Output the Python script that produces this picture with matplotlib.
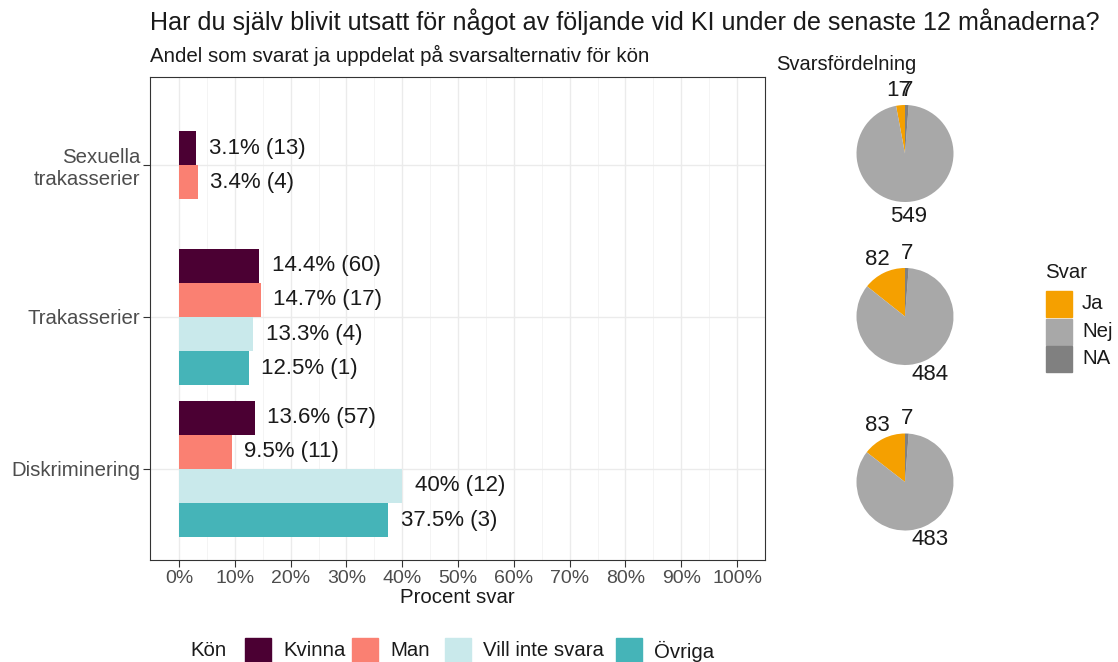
import matplotlib
matplotlib.use("Agg")
import matplotlib.pyplot as plt
from matplotlib.patches import Rectangle
import numpy as np

plt.rcParams['font.family'] = ['Liberation Sans', 'DejaVu Sans']

# ---- data ----
categories = ["Sexuella\ntrakasserier", "Trakasserier", "Diskriminering"]
genders = ["Kvinna", "Man", "Vill inte svara", "Övriga"]
gender_colors = ["#4B0033", "#FA8072", "#C9E9EB", "#45B4B8"]
# percent values per category (None = no bar)
pct = {
    "Sexuella\ntrakasserier": [3.1, 3.4, None, None],
    "Trakasserier": [14.4, 14.7, 13.3, 12.5],
    "Diskriminering": [13.6, 9.5, 40.0, 37.5],
}
counts = {
    "Sexuella\ntrakasserier": [13, 4, None, None],
    "Trakasserier": [60, 17, 4, 1],
    "Diskriminering": [57, 11, 12, 3],
}
x_ticks = list(range(0, 101, 10))
x_tick_labels = [f"{v}%" for v in x_ticks]

svar_labels = ["Ja", "Nej", "NA"]
svar_colors = ["#F5A000", "#A8A8A8", "#808080"]
pie_ja = [17, 82, 83]
pie_nej = [549, 484, 483]
pie_na = [7, 7, 7]

# ---- figure ----
W, H = 1118, 662
fig = plt.figure(figsize=(W / 100, H / 100), dpi=100)

def px_axes(x0, y0, x1, y1):
    return fig.add_axes([x0 / W, 1 - y1 / H, (x1 - x0) / W, (y1 - y0) / H])

TXT = "#1a1a1a"
ax = px_axes(150, 77, 765, 560)
bar_h = 0.9 / 4
for ci, cat in enumerate(categories):
    vals = pct[cat]
    present = [i for i, v in enumerate(vals) if v is not None]
    n = len(present)
    for k, gi in enumerate(present):
        y = ci + (k - (n - 1) / 2) * bar_h
        v = vals[gi]
        ax.barh(y, v, height=bar_h, color=gender_colors[gi], zorder=3)
        lbl = f"{v:g}%"
        ax.text(v + 2.2, y, f"{lbl} ({counts[cat][gi]})", va="center", ha="left",
                fontsize=16, color=TXT, zorder=4)

ax.set_xlim(-5.2, 105)
ax.set_ylim(2.6, -0.58)
ax.set_xticks(x_ticks)
ax.set_xticklabels(x_tick_labels)
ax.set_xticks(np.arange(5, 100, 10), minor=True)
ax.set_yticks(range(len(categories)))
ax.set_yticklabels(categories)
ax.grid(True, which="major", color="#EBEBEB", lw=1.0, zorder=0)
ax.grid(True, which="minor", axis="x", color="#F3F3F3", lw=0.6, zorder=0)
ax.tick_params(axis="y", which="major", labelsize=14.7, colors="#333333",
               labelcolor="#4D4D4D", length=5, width=0.8, pad=2)
ax.tick_params(axis="x", which="major", labelsize=14, colors="#333333",
               labelcolor="#4D4D4D", length=5, width=0.8, pad=2)
ax.tick_params(axis="both", which="minor", length=0)
for s in ax.spines.values():
    s.set_color("#333333")
    s.set_linewidth(0.8)
ax.set_xlabel("Procent svar", fontsize=14.7, color=TXT, labelpad=1)

# titles
fig.text(150 / W, 1 - 22 / H, "Har du själv blivit utsatt för något av följande vid KI under de senaste 12 månaderna?",
         fontsize=18.1, va="center", ha="left", color=TXT)
fig.text(150 / W, 1 - 55 / H, "Andel som svarat ja uppdelat på svarsalternativ för kön",
         fontsize=14.8, va="center", ha="left", color=TXT)
fig.text(776 / W, 1 - 65 / H, "Svarsfördelning", fontsize=14.5, va="center", ha="left", color=TXT)

# pies
centers_y = [153.5, 316.5, 482]
R = 48.5
half = 75
L = half / R
for i, cy in enumerate(centers_y):
    pax = px_axes(905 - half, cy - half, 905 + half, cy + half)
    vals = [pie_ja[i], pie_nej[i], pie_na[i]]
    wedges, texts = pax.pie(vals, colors=svar_colors, startangle=90, counterclock=True,
                            labels=[str(v) for v in vals], labeldistance=1.3,
                            textprops=dict(fontsize=16, color=TXT),
                            wedgeprops=dict(linewidth=0))
    for t in texts:
        t.set_ha("center")
        t.set_va("center")
    pax.set_xlim(-L, L)
    pax.set_ylim(-L, L)
    pax.set_aspect("equal")
    pax.axis("off")

# Svar legend
fig.text(1045 / W, 1 - 272 / H, "Svar", fontsize=14.7, va="center", ha="left", color=TXT)
for i, (lab, col) in enumerate(zip(svar_labels, svar_colors)):
    y0 = 291 + i * 27.5
    fig.patches.append(Rectangle((1046 / W, 1 - (y0 + 26) / H), 26 / W, 26 / H,
                                 transform=fig.transFigure, color=col, figure=fig))
    fig.text(1082 / W, 1 - (y0 + 13) / H, lab, fontsize=14.7, va="center", ha="left", color=TXT)

# Kön legend (bottom)
ly = 651
fig.text(190 / W, 1 - ly / H, "Kön", fontsize=14.7, va="center", ha="left", color=TXT)
box_x = [245, 352, 445, 616]
for bx, lab, col in zip(box_x, genders, gender_colors):
    fig.patches.append(Rectangle((bx / W, 1 - (ly + 13) / H), 26 / W, 26 / H,
                                 transform=fig.transFigure, color=col, figure=fig))
    fig.text((bx + 38) / W, 1 - ly / H, lab, fontsize=14.7, va="center", ha="left", color=TXT)

fig.savefig("out.png", dpi=100, facecolor="white")
